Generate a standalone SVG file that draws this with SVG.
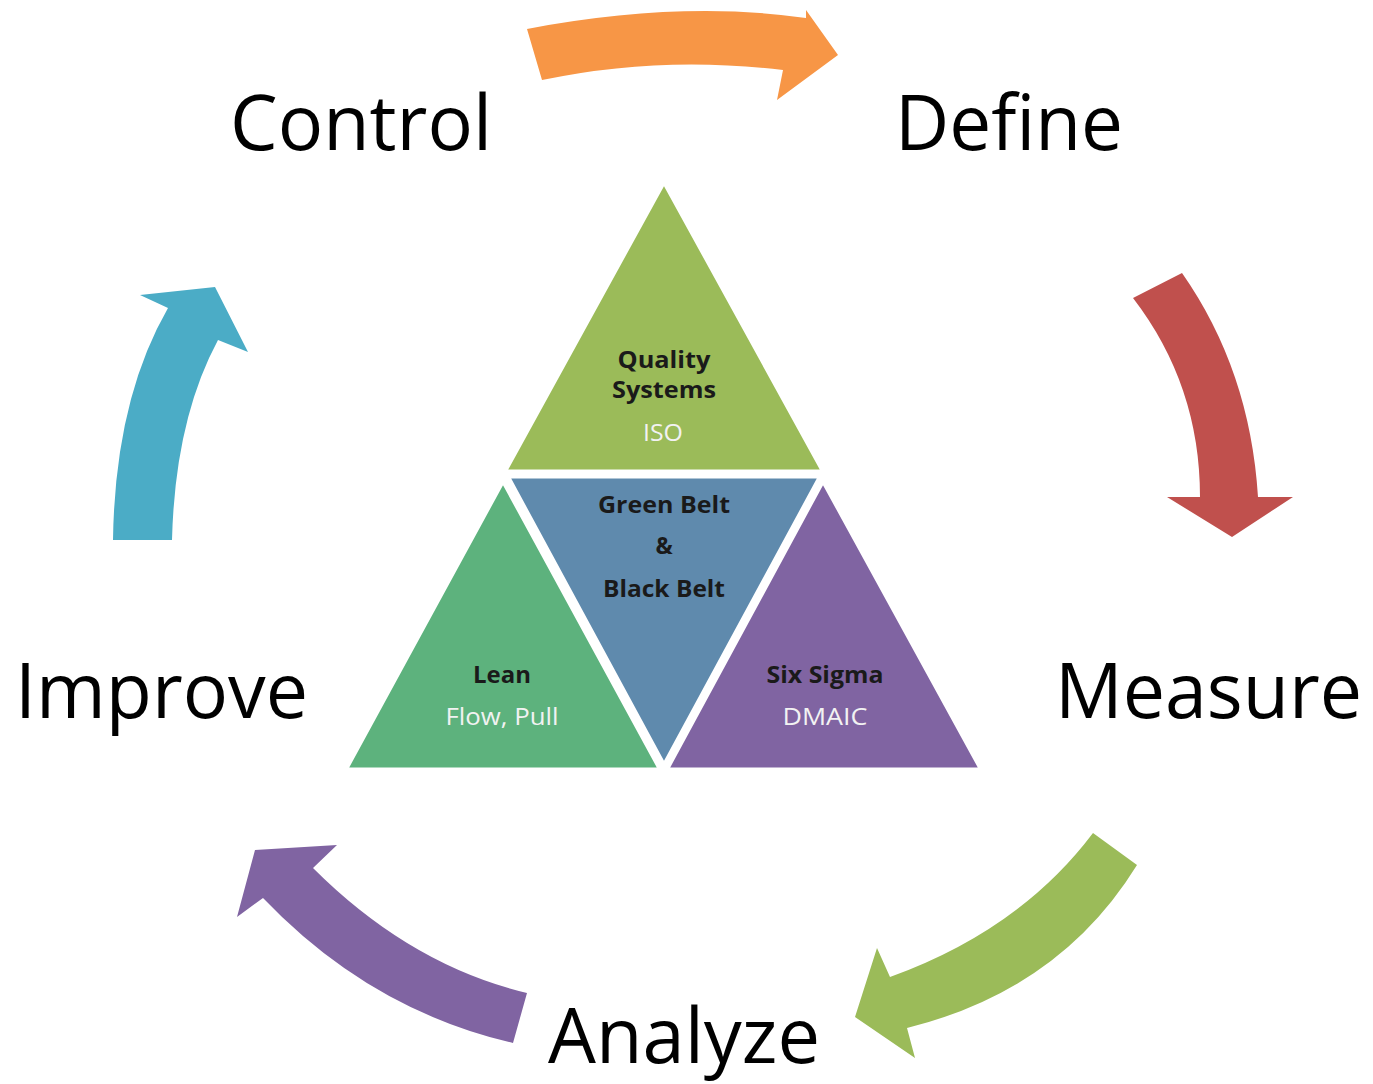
<svg xmlns="http://www.w3.org/2000/svg" width="1373" height="1084" viewBox="0 0 1373 1084">
<style>
.big{font-family:"Open Sans","Liberation Sans",sans-serif;font-size:76px;fill:#000}
.hd{font-family:"Open Sans","Liberation Sans",sans-serif;font-size:23px;font-weight:bold;fill:#1a1a1a;text-anchor:middle}
.sub{font-family:"Open Sans","Liberation Sans",sans-serif;font-size:23px;fill:#f2f2f2;text-anchor:middle}
.tri{stroke:#fff;stroke-width:5;stroke-linejoin:miter}
</style>
<rect width="1373" height="1084" fill="#fff"/>
<g id="connectors">
<path id="arrow-control-define" d="M527,29 Q680,0 806,18 L806,10 L838,55 L777,100 L783,70 Q660,55 542,80 Z" fill="#F79646"/>
<path id="arrow-define-measure" d="M1133,298 L1182,273 Q1250,370 1258,497 L1293,497 L1232,537 L1167,497 L1200,497 Q1200,385 1133,298 Z" fill="#C0504D"/>
<path id="arrow-measure-analyze" d="M1093,833 L1137,865 Q1060,990 907,1028 L915,1058 L855,1017 L877,948 L890,977 Q1020,930 1093,833 Z" fill="#9BBB59"/>
<path id="arrow-analyze-improve" d="M527,993 Q410,965 313,868 L337,845 L255,850 L237,917 L263,898 Q370,1010 513,1043 Z" fill="#8064A2"/>
<path id="arrow-improve-control" d="M113,540 Q115,400 168,308 L140,295 L215,287 L248,352 L218,340 Q175,420 172,540 Z" fill="#4BACC6"/>
</g>
<g id="control"><text class="big" x="230" y="150" textLength="262" lengthAdjust="spacingAndGlyphs">Control</text></g>
<g id="define"><text class="big" x="895" y="150" textLength="228" lengthAdjust="spacingAndGlyphs">Define</text></g>
<g id="improve"><text class="big" x="15" y="718" textLength="293" lengthAdjust="spacingAndGlyphs">Improve</text></g>
<g id="measure"><text class="big" x="1055" y="718" textLength="307" lengthAdjust="spacingAndGlyphs">Measure</text></g>
<g id="analyze"><text class="big" x="548" y="1063" textLength="272" lengthAdjust="spacingAndGlyphs">Analyze</text></g>
<g id="quality-systems">
<polygon class="tri" points="664,181 504,472 824,472" fill="#9BBB59"/>
<text class="hd" x="664" y="368" textLength="93" lengthAdjust="spacingAndGlyphs">Quality</text>
<text class="hd" x="664" y="398" textLength="104" lengthAdjust="spacingAndGlyphs">Systems</text>
<text class="sub" x="663" y="441" textLength="40" lengthAdjust="spacingAndGlyphs">ISO</text>
</g>
<g id="lean">
<polygon class="tri" points="503,480 345,770 661,770" fill="#5DB27D"/>
<text class="hd" x="502" y="683" textLength="58" lengthAdjust="spacingAndGlyphs">Lean</text>
<text class="sub" x="502" y="725" textLength="113" lengthAdjust="spacingAndGlyphs">Flow, Pull</text>
</g>
<g id="six-sigma">
<polygon class="tri" points="823,480 666,770 982,770" fill="#8064A2"/>
<text class="hd" x="825" y="683" textLength="117" lengthAdjust="spacingAndGlyphs">Six Sigma</text>
<text class="sub" x="825" y="725" textLength="85" lengthAdjust="spacingAndGlyphs">DMAIC</text>
</g>
<g id="belts">
<polygon class="tri" points="507,476 821,476 664,766" fill="#5F8AAD"/>
<text class="hd" x="664" y="513" textLength="132" lengthAdjust="spacingAndGlyphs">Green Belt</text>
<text class="hd" x="664" y="554">&amp;</text>
<text class="hd" x="664" y="597" textLength="122" lengthAdjust="spacingAndGlyphs">Black Belt</text>
</g>
</svg>
